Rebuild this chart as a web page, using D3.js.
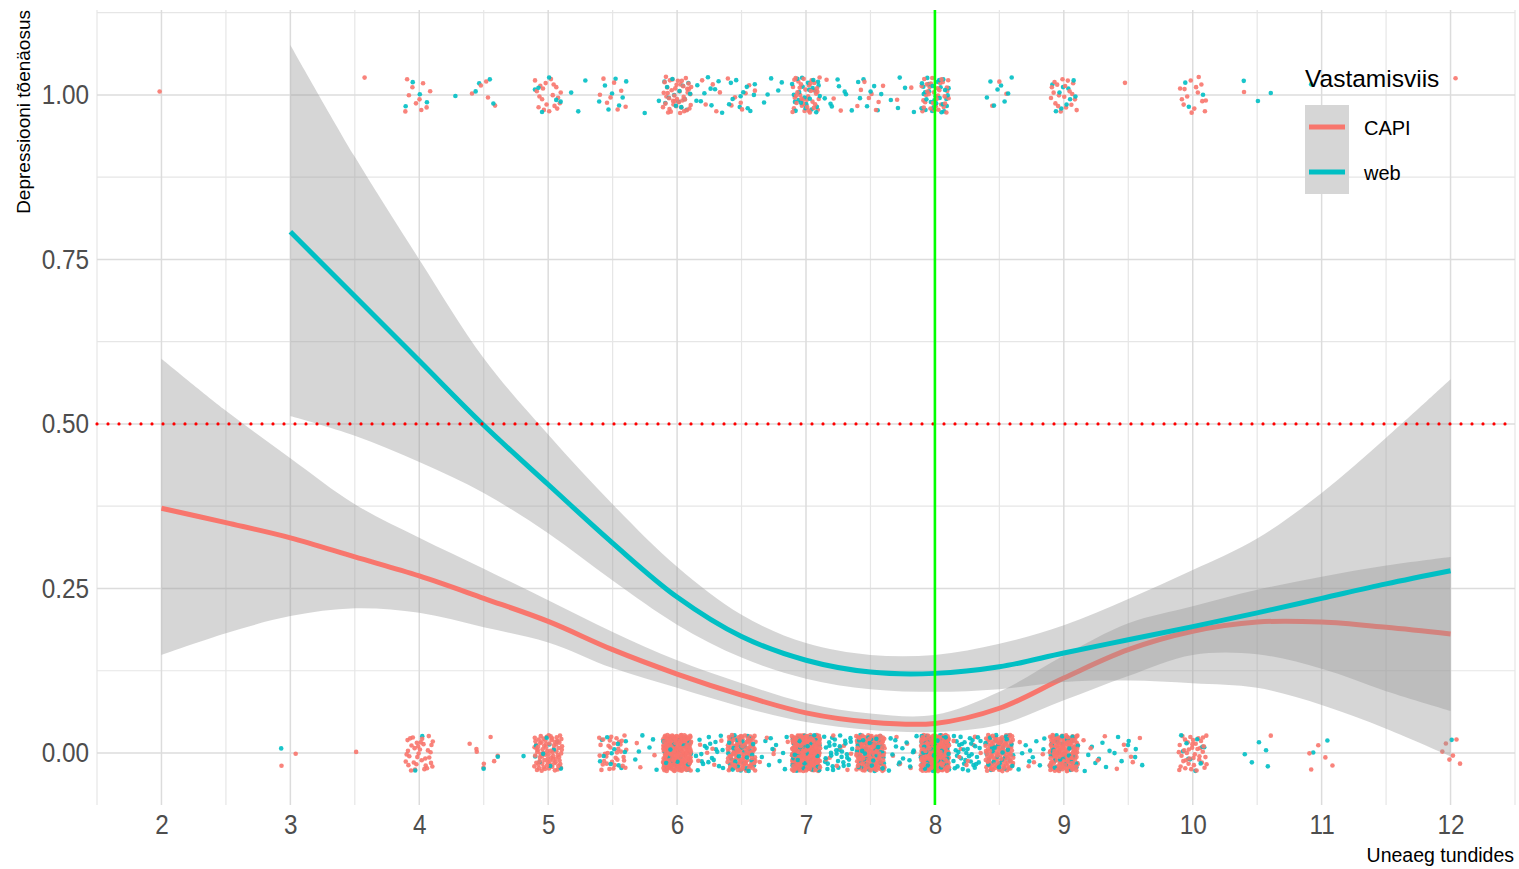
<!DOCTYPE html>
<html>
<head>
<meta charset="utf-8">
<script src="https://cdn.jsdelivr.net/npm/d3@7"></script>
<style>
  body { margin:0; background:#ffffff; }
  text { font-family:"Liberation Sans", Arial, sans-serif; }
</style>
</head>
<body>
<svg id="chart" width="1519" height="869"></svg>
<script>
// smooth fit grid (hours)
var fitX = [2,2.5,3,3.5,4,4.5,5,5.5,6,6.5,7,7.5,8,8.5,9,9.5,10,10.5,11,11.5,12];
var capiFit   = [0.372,0.350,0.327,0.298,0.269,0.235,0.200,0.157,0.120,0.088,0.061,0.047,0.045,0.068,0.114,0.157,0.185,0.199,0.199,0.191,0.181];
var capiLower = [0.149,0.182,0.208,0.220,0.213,0.191,0.168,0.129,0.099,0.070,0.047,0.035,0.032,0.043,0.080,0.117,0.149,0.150,0.128,0.094,0.064];
var capiUpper = [0.599,0.520,0.448,0.378,0.327,0.280,0.232,0.184,0.141,0.106,0.076,0.060,0.058,0.093,0.148,0.197,0.223,0.248,0.268,0.285,0.298];
// web starts at 3 hours
var webX     = [3,3.5,4,4.5,5,5.5,6,6.5,7,7.5,8,8.5,9,9.5,10,10.5,11,11.5,12];
var webFit   = [0.792,0.694,0.596,0.498,0.408,0.319,0.237,0.177,0.141,0.123,0.121,0.131,0.152,0.172,0.192,0.213,0.235,0.257,0.277];
var webUpper = [1.076,0.906,0.750,0.600,0.484,0.378,0.283,0.210,0.167,0.149,0.149,0.166,0.194,0.234,0.278,0.326,0.395,0.479,0.568];
var webLower = [0.512,0.482,0.442,0.395,0.334,0.262,0.195,0.145,0.113,0.097,0.093,0.097,0.108,0.110,0.106,0.099,0.073,0.037,-0.005];

// observations: [hours, count] per group and outcome
var capiZero = [[3,2],[3.5,1],[4,35],[4.5,8],[5,80],[5.5,35],[5.75,3],[6,220],[6.25,6],[6.5,110],[6.75,5],[7,260],[7.25,8],[7.5,150],[7.75,6],[8,220],[8.25,8],[8.5,110],[8.75,4],[9,160],[9.25,4],[9.5,6],[10,40],[10.5,1],[11,5],[12,6]];
var webZero  = [[3,1],[4,2],[4.5,2],[4.75,1],[5,10],[5.5,12],[5.75,6],[6,20],[6.25,20],[6.5,30],[6.75,10],[7,40],[7.25,35],[7.5,40],[7.75,15],[8,50],[8.25,35],[8.5,30],[8.75,10],[9,30],[9.25,8],[9.5,8],[10,10],[10.5,5],[11,2],[12,1]];
var capiOne  = [[2,1],[3.5,1],[4,10],[4.5,5],[5,20],[5.5,8],[6,45],[6.25,5],[6.5,8],[7,40],[7.25,3],[7.5,8],[7.75,2],[8,35],[8.5,3],[9,20],[9.5,1],[10,15],[10.5,1],[12,1]];
var webOne   = [[4,4],[4.25,1],[4.5,4],[5,6],[5.25,3],[5.5,8],[5.75,2],[6,15],[6.25,10],[6.5,12],[6.75,5],[7,25],[7.25,8],[7.5,8],[7.75,5],[8,30],[8.5,8],[9,10],[10,3],[10.5,3],[11,1]];

var xTicks = [2,3,4,5,6,7,8,9,10,11,12];
var yTicks = [0,0.25,0.5,0.75,1];
var groups = ["CAPI","web"];
var colours = {CAPI:"#F8766D", web:"#00BFC4"};

var svg = d3.select("#chart");
var pLeft = 97, pRight = 1515, pTop = 10, pBottom = 805;

var x = d3.scaleLinear().domain([1.5,12.5]).range([pLeft,pRight]);
var y = d3.scaleLinear().domain([-0.079,1.129]).range([pBottom,pTop]);

// grid
var minorX = d3.range(1.5,12.51,0.5).filter(function(v){ return v % 1 != 0; });
var minorY = [0.125,0.375,0.625,0.875,1.125];
var grid = svg.append("g");
grid.selectAll(".mx").data(minorX).enter().append("line")
  .attr("x1",x).attr("x2",x).attr("y1",pTop).attr("y2",pBottom)
  .style("stroke","#e6e6e6").style("stroke-width",1.2);
grid.selectAll(".my").data(minorY).enter().append("line")
  .attr("y1",y).attr("y2",y).attr("x1",pLeft).attr("x2",pRight)
  .style("stroke","#e6e6e6").style("stroke-width",1.2);
grid.selectAll(".Mx").data(xTicks).enter().append("line")
  .attr("x1",x).attr("x2",x).attr("y1",pTop).attr("y2",pBottom)
  .style("stroke","#dcdcdc").style("stroke-width",1.5);
grid.selectAll(".My").data(yTicks).enter().append("line")
  .attr("y1",y).attr("y2",y).attr("x1",pLeft).attr("x2",pRight)
  .style("stroke","#dcdcdc").style("stroke-width",1.5);

// axes labels (no lines, theme_minimal style)
var xAxis = svg.append("g").attr("transform","translate(0," + pBottom + ")")
  .call(d3.axisBottom(x).tickValues(xTicks).tickSize(0).tickPadding(10).tickFormat(d3.format("d")));
var yAxis = svg.append("g").attr("transform","translate(" + pLeft + ",0)")
  .call(d3.axisLeft(y).tickValues(yTicks).tickSize(0).tickPadding(8).tickFormat(d3.format(".2f")));
[xAxis,yAxis].forEach(function(a) {
  a.select(".domain").remove();
  a.selectAll("text").style("font-size","27px").style("fill","#4d4d4d")
    .style("font-family","'Liberation Sans', Arial, sans-serif")
    .each(function() {
      // the original labels are a bit condensed
      var w = this.getComputedTextLength();
      d3.select(this).attr("textLength", w * 0.9).attr("lengthAdjust","spacingAndGlyphs");
    });
});

// halton sequence, used as a fixed jitter like geom_jitter
function halton(i, b) {
  var f = 1, r = 0;
  while (i > 0) { f = f / b; r += f * (i % b); i = Math.floor(i / b); }
  return r;
}
var pts = [];
function addPoints(list, yv, grp, seed) {
  list.forEach(function(c, k) {
    for (var i = 0; i < c[1]; i++) {
      var n = seed + k * 37 + i + 1;
      pts.push({x: c[0] + (halton(n,2) - 0.5) * 0.22,
                y: yv + (halton(n,3) - 0.5) * 0.055,
                g: grp, o: halton(n,5)});
    }
  });
}
addPoints(capiZero, 0, "CAPI", 11);
addPoints(capiOne, 1, "CAPI", 501);
addPoints(webZero, 0, "web", 1203);
addPoints(webOne, 1, "web", 2207);
// mixed drawing order, as rows come in the data
pts.sort(function(a,b){ return a.o - b.o; });

svg.append("g").selectAll("circle").data(pts).enter().append("circle")
  .attr("cx", function(d){ return x(d.x); })
  .attr("cy", function(d){ return y(d.y); })
  .attr("r", 2.3)
  .style("fill", function(d){ return colours[d.g]; })
  .style("opacity", 0.9);

// smooths: ribbon then line per group
var smooths = [
  {g:"CAPI", xs:fitX, fit:capiFit, lo:capiLower, hi:capiUpper},
  {g:"web",  xs:webX, fit:webFit,  lo:webLower,  hi:webUpper}
];
var area = d3.area().curve(d3.curveCatmullRom)
  .x(function(d){ return x(d.x); })
  .y0(function(d){ return y(d.lo); })
  .y1(function(d){ return y(d.hi); });
var line = d3.line().curve(d3.curveCatmullRom)
  .x(function(d){ return x(d.x); })
  .y(function(d){ return y(d.fit); });

smooths.forEach(function(s) {
  var rows = s.xs.map(function(v,i){ return {x:v, fit:s.fit[i], lo:s.lo[i], hi:s.hi[i]}; });
  svg.append("path").datum(rows).attr("d",area)
    .style("fill","#999999").style("opacity",0.4);
  svg.append("path").datum(rows).attr("d",line)
    .style("fill","none").style("stroke",colours[s.g]).style("stroke-width",5);
});

// reference lines
svg.append("line")
  .attr("x1",pLeft).attr("x2",pRight).attr("y1",y(0.5)).attr("y2",y(0.5))
  .style("stroke","#ff0000").style("stroke-width",3.2)
  .style("stroke-dasharray","0 11").style("stroke-linecap","round");
svg.append("line")
  .attr("x1",x(8)).attr("x2",x(8)).attr("y1",pTop).attr("y2",pBottom)
  .style("stroke","#00ff00").style("stroke-width",2.6);

// axis titles
svg.append("text")
  .attr("transform","translate(30," + pTop + ") rotate(-90)")
  .attr("text-anchor","end")
  .style("font-size","19px").style("fill","#000")
  .text("Depressiooni tõenäosus");
svg.append("text")
  .attr("x",1514).attr("y",862)
  .attr("text-anchor","end")
  .style("font-size","19.5px").style("fill","#000")
  .text("Uneaeg tundides");

// legend
var legend = svg.append("g").attr("transform","translate(1305,0)");
legend.append("text").attr("x",0).attr("y",87)
  .style("font-size","24.5px").style("fill","#000").text("Vastamisviis");
legend.append("rect").attr("x",0).attr("y",105).attr("width",44).attr("height",89)
  .style("fill","#d6d6d6");
legend.selectAll(".key").data(groups).enter().append("g")
  .attr("transform", function(d,i){ return "translate(0," + (127 + i*45) + ")"; })
  .each(function(d) {
    d3.select(this).append("line").attr("x1",4).attr("x2",40).attr("y1",0).attr("y2",0)
      .style("stroke",colours[d]).style("stroke-width",5);
    d3.select(this).append("text").attr("x",59).attr("y",8)
      .style("font-size","20px").style("fill","#000").text(d);
  });
</script>
</body>
</html>
